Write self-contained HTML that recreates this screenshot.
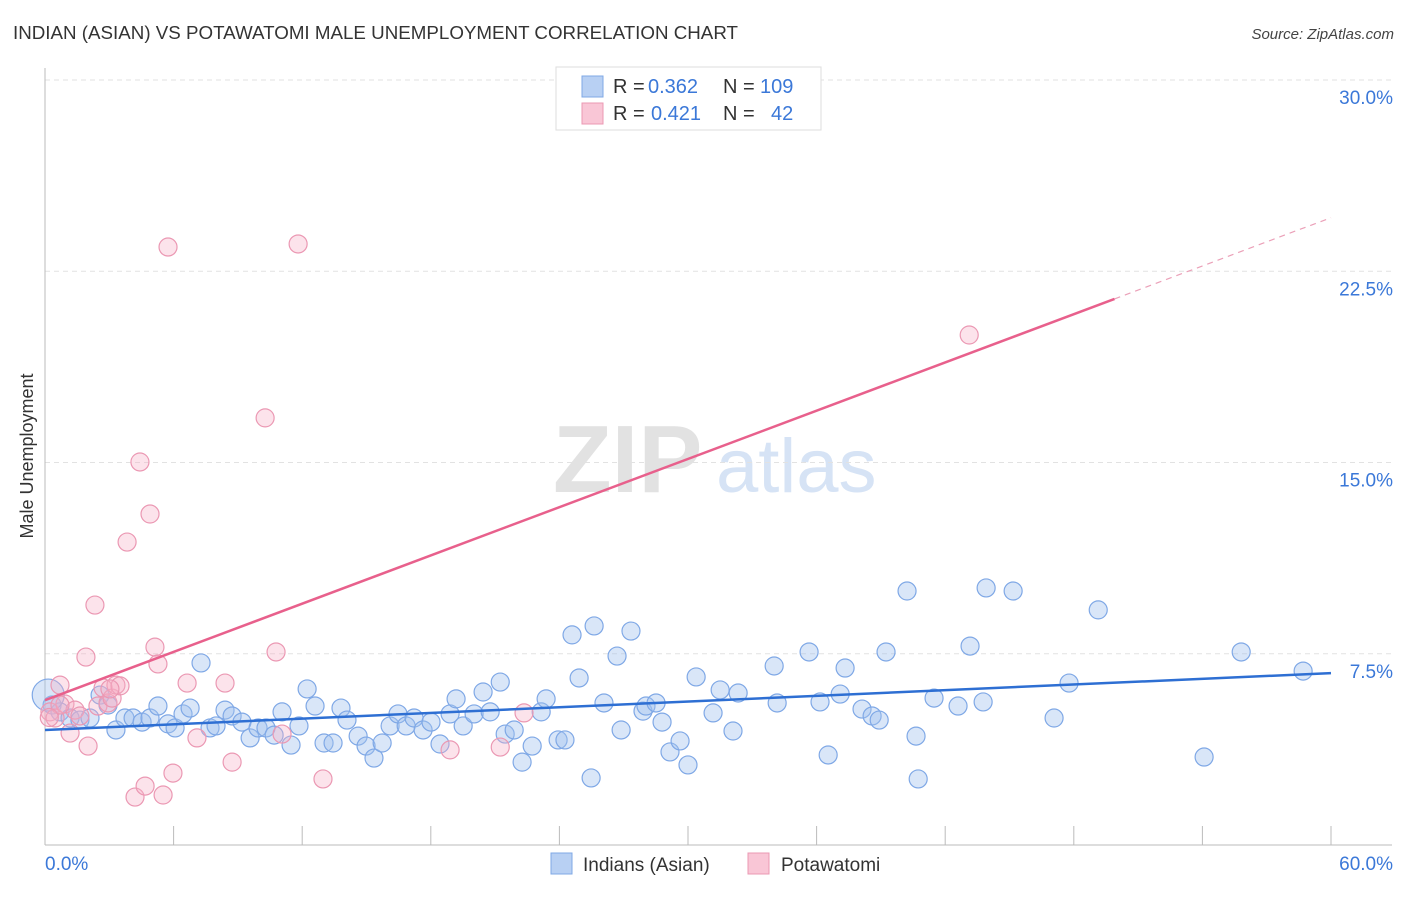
<!DOCTYPE html>
<html><head><meta charset="utf-8"><style>
body{margin:0;background:#fff;font-family:"Liberation Sans",sans-serif;}
svg text{font-family:"Liberation Sans",sans-serif;}
</style></head><body>
<svg id="chart" width="1406" height="892" viewBox="0 0 1406 892" xmlns="http://www.w3.org/2000/svg">
<text x="13" y="39" font-size="18" fill="#333" textLength="725" lengthAdjust="spacingAndGlyphs">INDIAN (ASIAN) VS POTAWATOMI MALE UNEMPLOYMENT CORRELATION CHART</text>
<text x="1394" y="39" font-size="15" fill="#444" text-anchor="end" font-style="italic">Source: ZipAtlas.com</text>
<g>
<text x="553" y="492" font-size="96" font-family="Liberation Serif" fill="#e2e2e2" font-weight="bold">ZIP</text>
<text x="716" y="492" font-size="76" fill="#d6e3f5">atlas</text>
</g>
<g id="grid"></g>
<g id="axes"></g>
<g id="marks"></g>
<text transform="translate(33,456) rotate(-90)" font-size="18" fill="#333" text-anchor="middle">Male Unemployment</text>
<g>
<rect x="556" y="67" width="265" height="63" fill="#fff" stroke="#ddd"/>
<rect x="582" y="76" width="21" height="21" fill="#b8d0f3" stroke="#7fa8e6"/>
<text x="613" y="93" font-size="20" fill="#333">R =</text>
<text x="648" y="93" font-size="20" fill="#3b78d8">0.362</text>
<text x="723" y="93" font-size="20" fill="#333">N =</text>
<text x="760" y="93" font-size="20" fill="#3b78d8">109</text>
<rect x="582" y="103" width="21" height="21" fill="#f9c6d6" stroke="#eb98b3"/>
<text x="613" y="120" font-size="20" fill="#333">R =</text>
<text x="651" y="120" font-size="20" fill="#3b78d8">0.421</text>
<text x="723" y="120" font-size="20" fill="#333">N =</text>
<text x="771" y="120" font-size="20" fill="#3b78d8">42</text>
</g>
<g>
<rect x="551" y="853" width="21" height="21" fill="#b8d0f3" stroke="#7fa8e6"/>
<text x="583" y="871" font-size="19" fill="#333">Indians (Asian)</text>
<rect x="748" y="853" width="21" height="21" fill="#f9c6d6" stroke="#eb98b3"/>
<text x="781" y="871" font-size="19" fill="#333">Potawatomi</text>
</g>
</svg>
<script>
const yTicks=[7.5,15,22.5,30];
const yTickLabels=["7.5%","15.0%","22.5%","30.0%"];
const xTicks=[0,6,12,18,24,30,36,42,48,54,60];
const xEndLabels=["0.0%","60.0%"];
const blueX=[0.33,0.70,1.17,1.63,2.10,2.57,2.94,3.31,3.73,4.11,4.53,4.90,5.27,5.74,6.07,6.44,6.77,7.28,7.70,7.98,8.40,8.73,9.19,9.57,9.94,10.31,10.69,11.06,11.48,11.85,12.23,12.60,13.02,13.44,13.81,14.09,14.61,14.98,15.35,15.73,16.10,16.47,16.85,17.22,17.64,18.01,18.43,18.90,19.18,19.51,20.02,20.44,20.77,21.24,21.47,21.89,22.26,22.73,23.15,23.38,23.94,24.26,24.59,24.92,25.48,25.62,26.08,26.69,26.88,27.34,27.90,28.04,28.51,28.79,29.16,29.63,30.00,30.38,31.17,31.50,32.10,32.34,34.02,34.16,35.65,36.16,36.54,37.10,37.33,38.12,38.59,38.92,39.24,40.22,40.64,40.74,41.48,42.60,43.16,43.77,43.91,45.17,47.08,47.78,49.14,54.08,55.81,58.70,0.15];
const blueY=[5.49,5.22,4.98,4.90,4.98,5.88,5.49,4.51,4.98,4.98,4.82,4.98,5.45,4.75,4.59,5.14,5.37,7.14,4.59,4.67,5.29,5.06,4.82,4.20,4.59,4.59,4.31,5.22,3.92,4.67,6.12,5.45,4.00,4.00,5.37,4.90,4.27,3.88,3.41,4.00,4.67,5.14,4.67,4.98,4.51,4.82,3.96,5.14,5.73,4.67,5.14,6.00,5.22,6.39,4.35,4.51,3.25,3.88,5.22,5.73,4.12,4.12,8.24,6.55,2.63,8.59,5.57,7.41,4.51,8.39,5.25,5.45,5.57,4.82,3.65,4.08,3.14,6.59,5.18,6.08,4.47,5.96,7.02,5.57,7.57,5.61,3.53,5.92,6.94,5.33,5.06,4.90,7.57,9.96,4.27,2.59,5.76,5.45,7.80,5.61,10.08,9.96,4.98,6.35,9.22,3.45,7.57,6.82,5.88];
const pinkX=[0.23,0.47,0.70,0.93,1.17,1.40,1.91,2.01,2.33,2.47,2.71,2.94,3.13,3.31,3.50,3.83,4.20,4.43,4.67,4.90,5.13,5.27,5.51,5.74,5.97,6.63,7.09,8.40,8.73,10.27,10.78,11.06,11.81,12.97,18.90,21.24,22.35,43.12,0.70,1.63,3.03,0.2];
const pinkY=[5.22,4.98,6.27,5.53,4.39,5.29,7.37,3.88,9.41,5.45,6.16,5.57,5.76,6.27,6.24,11.88,1.88,15.02,2.31,12.98,7.76,7.10,1.96,23.45,2.82,6.35,4.20,6.35,3.25,16.75,7.57,4.35,23.57,2.59,3.73,3.84,5.18,20.0,5.49,5.06,6.12,5.0];
const blueLine=[4.51,6.74];
const pinkLine=[5.68,24.6];
const pinkSolidEnd=49.9;
const X0=45,X1=1331,Y0=845,YTOP=80;
const sx=v=>X0+(X1-X0)*v/60;
const sy=v=>Y0-(Y0-YTOP)*v/30;
const NS="http://www.w3.org/2000/svg";
function mk(p,tag,at){const e=document.createElementNS(NS,tag);for(const k in at)e.setAttribute(k,at[k]);p.appendChild(e);return e;}
const grid=document.getElementById('grid'),axes=document.getElementById('axes'),marks=document.getElementById('marks');
yTicks.forEach((t,i)=>{
 const l=mk(grid,'line',{x1:X0,x2:1392,y1:sy(t),y2:sy(t),stroke:'#e2e2e2','stroke-dasharray':'5,4'});
 
 
 const tx=mk(axes,'text',{x:1393,y:sy(t)+24,'font-size':19,fill:'#3b78d8','text-anchor':'end'});
 tx.textContent=yTickLabels[i];
 
 
});
const ya=mk(axes,'line',{x1:X0,x2:X0,y1:68,y2:Y0,stroke:'#bbb'});


const xa=mk(axes,'line',{x1:X0,x2:1392,y1:Y0,y2:Y0,stroke:'#bbb'});


xTicks.forEach(t=>{
 const l=mk(axes,'line',{x1:sx(t),x2:sx(t),y1:826,y2:Y0,stroke:'#bbb'});
 
 
});
const xl0=mk(axes,'text',{x:45,y:870,'font-size':19,fill:'#3b78d8'});xl0.textContent=xEndLabels[0];


const xl1=mk(axes,'text',{x:1393,y:870,'font-size':19,fill:'#3b78d8','text-anchor':'end'});xl1.textContent=xEndLabels[1];


blueX.forEach((x,i)=>{
 const c=mk(marks,'circle',{cx:sx(x),cy:sy(blueY[i]),r:i===blueX.length-1?16:9,fill:'rgba(160,192,238,0.4)',stroke:'#7fa8e6','stroke-width':1.2});
 
 
});
pinkX.forEach((x,i)=>{
 const c=mk(marks,'circle',{cx:sx(x),cy:sy(pinkY[i]),r:9,fill:'rgba(245,175,198,0.35)',stroke:'#eb98b3','stroke-width':1.2});
 
 
});
const pv=x=>pinkLine[0]+(pinkLine[1]-pinkLine[0])*x/60;
const bl=mk(marks,'line',{x1:sx(0),y1:sy(blueLine[0]),x2:sx(60),y2:sy(blueLine[1]),stroke:'#2e6fd3','stroke-width':2.5});


const pl=mk(marks,'line',{x1:sx(0),y1:sy(pv(0)),x2:sx(pinkSolidEnd),y2:sy(pv(pinkSolidEnd)),stroke:'#e8608c','stroke-width':2.5});


const pd=mk(marks,'line',{x1:sx(pinkSolidEnd),y1:sy(pv(pinkSolidEnd)),x2:sx(60),y2:sy(pv(60)),stroke:'#eba0b8','stroke-width':1.2,'stroke-dasharray':'6,5'});


</script>
</body></html>
